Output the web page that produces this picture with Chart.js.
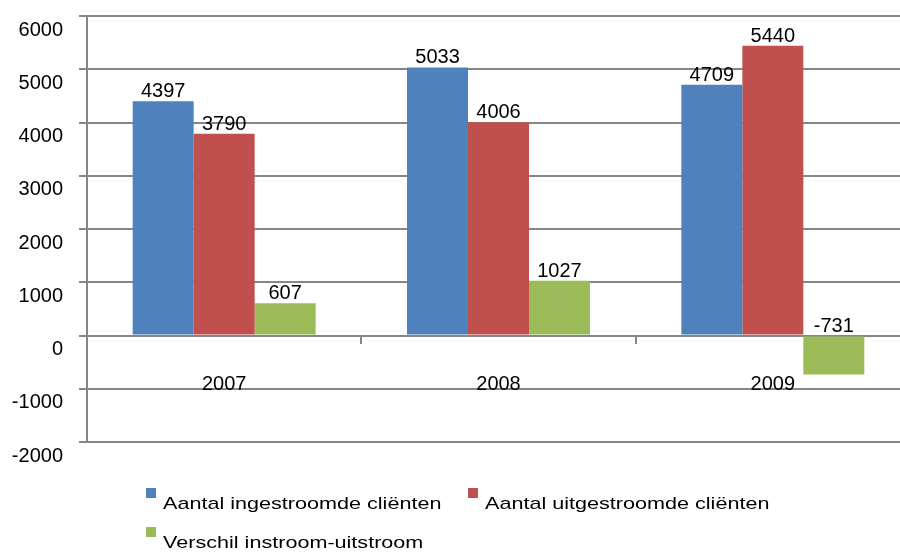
<!DOCTYPE html>
<html>
<head>
<meta charset="utf-8">
<script src="https://cdn.jsdelivr.net/npm/chart.js@4"></script>
<style>
  body { margin: 0; background: #fff; }
  #wrap { position: relative; width: 900px; height: 552px; overflow: hidden; }
  #legend { position: absolute; left: 146px; top: 486px; display: grid; grid-template-columns: 322px 322px; grid-auto-rows: 39px; }
  .item { position: relative; height: 39px; }
  .box { position: absolute; left: 0; top: 2px; width: 10px; height: 10px; }
  .txt { position: absolute; left: 17px; top: 9px; white-space: nowrap; color: #000;
         font: 17px/17px "Liberation Sans", Arial, sans-serif; transform: scaleX(1.27); transform-origin: 0 0; }
</style>
</head>
<body>
<div id="wrap">
  <canvas id="chart"></canvas>
  <div id="legend"></div>
</div>
<script>
const years = ["2007", "2008", "2009"]
const ingestroomd = [4397, 5033, 4709]
const uitgestroomd = [3790, 4006, 5440]
const verschil = [607, 1027, -731]
const seriesNames = ["Aantal ingestroomde cliënten", "Aantal uitgestroomde cliënten", "Verschil instroom-uitstroom"]
const seriesColors = ["#4F81BD", "#C0504D", "#9BBB59"]
const yMin = -2000
const yMax = 6000
const yStep = 1000

const gridGray = "#868686"
Chart.defaults.font.family = '"Liberation Sans", Arial, sans-serif'

// value above each bar (negative bars: above the zero line, like the original)
const valueLabels = {
	id: "valueLabels",
	afterDatasetsDraw(chart) {
		const ctx = chart.ctx
		const zero = chart.scales.y.getPixelForValue(0)
		ctx.save()
		ctx.font = '20px "Liberation Sans", Arial, sans-serif'
		ctx.fillStyle = "#000"
		ctx.textAlign = "center"
		ctx.textBaseline = "alphabetic"
		chart.data.datasets.forEach((ds, i) => {
			chart.getDatasetMeta(i).data.forEach((bar, j) => {
				const v = ds.data[j]
				const top = v >= 0 ? bar.y : zero
				ctx.fillText(String(v), bar.x, top - 4)
			})
		})
		ctx.restore()
	},
}

// the original plot runs a little past the right edge of the picture
const widePlot = {
	id: "widePlot",
	afterLayout(chart) {
		const right = 910
		const area = chart.chartArea
		area.right = right
		area.width = right - area.left
		const x = chart.scales.x
		x.right = right
		x.width = right - x.left
		x.configure()
	},
}

const datasets = [ingestroomd, uitgestroomd, verschil].map((data, i) => ({
	label: seriesNames[i],
	data: data,
	backgroundColor: seriesColors[i],
	borderWidth: 0,
	categoryPercentage: 0.667,
	barPercentage: 1,
}))

const chart = new Chart(document.getElementById("chart"), {
	type: "bar",
	data: { labels: years, datasets: datasets },
	options: {
		responsive: true,
		maintainAspectRatio: false,
		animation: false,
		layout: { padding: { top: 16, bottom: 110, left: 0, right: 0 } },
		plugins: {
			legend: { display: false },
			tooltip: { enabled: false },
		},
		scales: {
			x: {
				position: { y: 0 },
				grid: { drawOnChartArea: false, offset: true, tickLength: 7, color: gridGray, lineWidth: 2 },
				border: { color: gridGray, width: 2 },
				ticks: { padding: 30, color: "#000", font: { size: 20 } },
			},
			y: {
				min: yMin,
				max: yMax,
				afterFit(scale) {
					scale.width = 87
					scale.paddingTop = 0
					scale.paddingBottom = 0
				},
				grid: { color: gridGray, lineWidth: 2, tickLength: 8 },
				border: { color: gridGray, width: 2 },
				ticks: {
					stepSize: yStep,
					padding: 16,
					labelOffset: 14,
					color: "#000",
					font: { size: 20 },
					callback: (v) => String(v),
				},
			},
		},
	},
	plugins: [valueLabels, widePlot],
})

// legend built from the chart's own datasets
const legend = document.getElementById("legend")
chart.data.datasets.forEach((ds) => {
	const item = document.createElement("div")
	item.className = "item"
	const box = document.createElement("span")
	box.className = "box"
	box.style.background = ds.backgroundColor
	const txt = document.createElement("span")
	txt.className = "txt"
	txt.textContent = ds.label
	item.appendChild(box)
	item.appendChild(txt)
	legend.appendChild(item)
})
</script>
</body>
</html>
